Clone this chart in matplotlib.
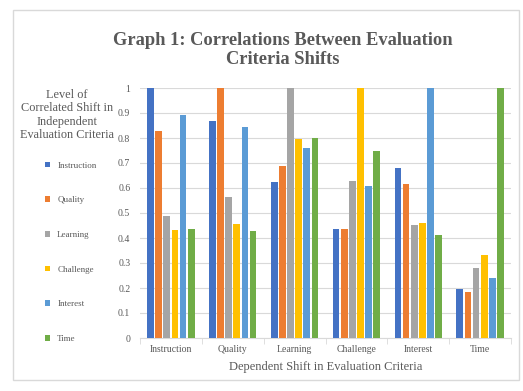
import numpy as np
import matplotlib
matplotlib.use("Agg")
import matplotlib.pyplot as plt
from matplotlib.patches import Rectangle

plt.rcParams['font.family'] = ['Liberation Serif', 'DejaVu Serif']

categories = ["Instruction", "Quality", "Learning", "Challenge", "Interest", "Time"]
series_names = ["Instruction", "Quality", "Learning", "Challenge", "Interest", "Time"]

instruction = [1.0, 0.869, 0.625, 0.436, 0.681, 0.196]
quality = [0.829, 1.0, 0.688, 0.437, 0.616, 0.183]
learning = [0.489, 0.563, 1.0, 0.628, 0.453, 0.280]
challenge = [0.431, 0.455, 0.796, 1.0, 0.461, 0.331]
interest = [0.891, 0.844, 0.760, 0.609, 1.0, 0.241]
time_vals = [0.437, 0.429, 0.801, 0.749, 0.413, 1.0]

series = [instruction, quality, learning, challenge, interest, time_vals]
colors = ["#4472C4", "#ED7D31", "#A5A5A5", "#FFC000", "#5B9BD5", "#70AD47"]

txt = "#595959"

fig = plt.figure(figsize=(5.23, 3.91), dpi=100)
fig.patches.append(Rectangle((13 / 523, 1 - 380 / 391), 506 / 523, 370 / 391,
                             transform=fig.transFigure, fill=False,
                             edgecolor="#D9D9D9", linewidth=1.0))

ax = fig.add_axes([140 / 523, 1 - 338 / 391, 371 / 523, 250 / 391])

x = np.arange(len(categories))
pitch = 0.132
width = 0.108
handles = []
for i, (vals, c) in enumerate(zip(series, colors)):
    b = ax.bar(x + (i - 2.5) * pitch, vals, width, color=c, zorder=3)
    handles.append(b)

ax.set_xlim(-0.5, len(categories) - 0.5)
ax.set_ylim(0, 1)
ax.set_yticks(np.arange(0, 1.01, 0.1))
ax.set_yticklabels(["0", "0.1", "0.2", "0.3", "0.4", "0.5", "0.6", "0.7", "0.8", "0.9", "1"])
ax.set_xticks(x)
ax.set_xticklabels(categories)
ax.set_xticks(np.arange(-0.5, len(categories), 1), minor=True)
ax.tick_params(axis="x", which="major", length=0, labelsize=7, colors=txt, pad=5)
ax.tick_params(axis="x", which="minor", length=4, color="#D9D9D9")
ax.tick_params(axis="y", length=0, labelsize=7, colors=txt, pad=7)
ax.grid(axis="y", color="#D9D9D9", linewidth=0.8, zorder=0)
for s in ["top", "right", "left"]:
    ax.spines[s].set_visible(False)
ax.spines["bottom"].set_color("#D9D9D9")

ax.set_xlabel("Dependent Shift in Evaluation Criteria", fontsize=9, color=txt, labelpad=5)

fig.text(283 / 523, 1 - 50 / 391, "Graph 1: Correlations Between Evaluation\nCriteria Shifts",
         ha="center", va="center", fontsize=13.3, fontweight="bold", color=txt, linespacing=1.15)

fig.text(67 / 523, 1 - 115 / 391, "Level of\nCorrelated Shift in\nIndependent\nEvaluation Criteria",
         ha="center", va="center", fontsize=8.8, color=txt, linespacing=1.12)

fig.legend(handles, series_names, loc="upper left", bbox_to_anchor=(40 / 523, 1 - 157 / 391),
           frameon=False, fontsize=6.5, handlelength=0.6, handleheight=0.6,
           handletextpad=0.8, labelspacing=2.95, labelcolor=txt, borderpad=0)

plt.savefig("out.png", dpi=100)
